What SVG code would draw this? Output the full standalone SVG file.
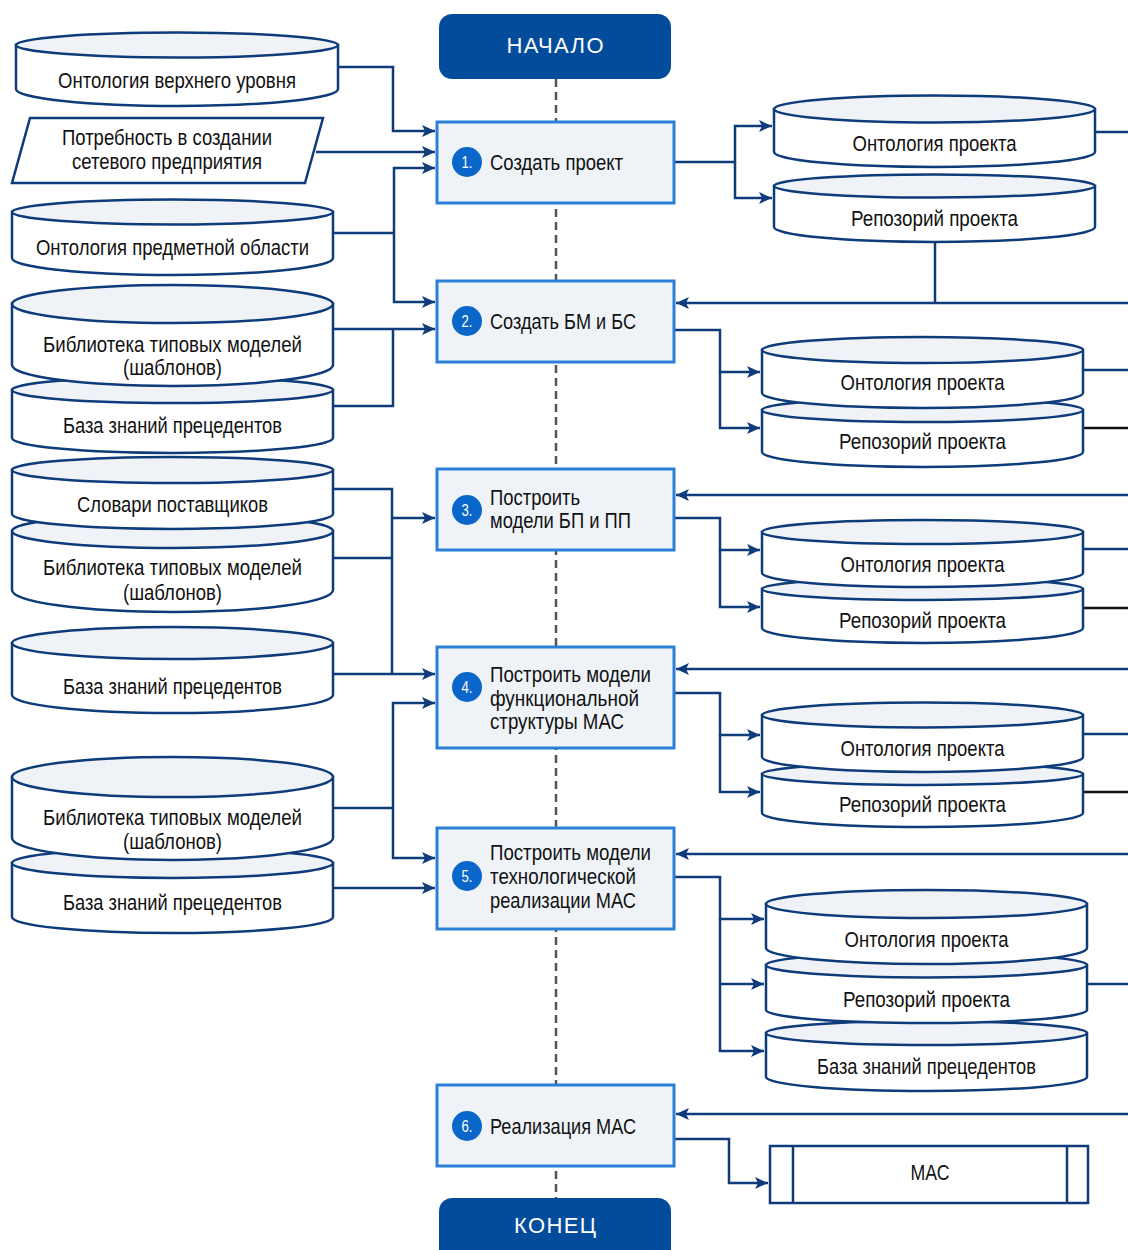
<svg xmlns="http://www.w3.org/2000/svg" width="1128" height="1250" viewBox="0 0 1128 1250">
<defs>
<marker id="ar" markerUnits="userSpaceOnUse" markerWidth="14" markerHeight="12" refX="13" refY="6" orient="auto">
<path d="M0,0 L13,6 L0,12 L3,6 Z" fill="#0E3B7A"/>
</marker>
<style>
.cb{fill:#fff;stroke:#0E3B7A;stroke-width:2.5}
.ct{fill:#EFF3F8;stroke:#0E3B7A;stroke-width:2.5}
.t{font-family:'Liberation Sans',Arial,sans-serif;font-size:22px;fill:#111;text-anchor:middle}
.tl{font-family:'Liberation Sans',Arial,sans-serif;font-size:22px;fill:#111}
.box{fill:#EFF3F8;stroke:#2A80D8;stroke-width:3}
.num{fill:#0A66C8}
.nt{font-family:'Liberation Sans',Arial,sans-serif;font-size:17px;fill:#fff;text-anchor:middle}
.term{fill:#034C9C}
.tt{font-family:'Liberation Sans',Arial,sans-serif;font-size:22px;fill:#fff;text-anchor:middle}
.ln{fill:none;stroke:#0E3B7A;stroke-width:2.5}
.lk{fill:none;stroke:#111;stroke-width:2.5}
.dash{fill:none;stroke:#555;stroke-width:2.5;stroke-dasharray:8 5}
</style>
</defs>

<path class="dash" d="M556,79 V1198"/>

<g id="start">
<rect class="term" x="439" y="14" width="232" height="65" rx="13"/>
<text class="tt" x="555" y="53" textLength="97" lengthAdjust="spacing">НАЧАЛО</text>
</g>
<g id="end">
<rect class="term" x="439" y="1198" width="232" height="70" rx="13"/>
<text class="tt" x="555" y="1233" textLength="82" lengthAdjust="spacing">КОНЕЦ</text>
</g>

<g id="connectors">
<path class="ln" d="M338,67 H393 V131 H435" marker-end="url(#ar)"/>
<path class="ln" d="M316,152 H435" marker-end="url(#ar)"/>
<path class="ln" d="M333,233 H394"/>
<path class="ln" d="M394,233 V168 H435" marker-end="url(#ar)"/>
<path class="ln" d="M394,233 V302 H435" marker-end="url(#ar)"/>
<path class="ln" d="M333,329 H435" marker-end="url(#ar)"/>
<path class="ln" d="M333,406 H393 V329"/>
<path class="ln" d="M333,489 H392 V674"/>
<path class="ln" d="M392,518 H435" marker-end="url(#ar)"/>
<path class="ln" d="M333,558 H392"/>
<path class="ln" d="M333,674 H435" marker-end="url(#ar)"/>
<path class="ln" d="M333,808 H393"/>
<path class="ln" d="M393,808 V703 H435" marker-end="url(#ar)"/>
<path class="ln" d="M393,808 V858 H435" marker-end="url(#ar)"/>
<path class="ln" d="M333,888 H435" marker-end="url(#ar)"/>

<path class="ln" d="M674,162 H735 V126 H772" marker-end="url(#ar)"/>
<path class="ln" d="M735,162 V198 H772" marker-end="url(#ar)"/>
<path class="ln" d="M1095,132 H1128"/>
<path class="ln" d="M935,242 V303"/>
<path class="ln" d="M1128,303 H676" marker-end="url(#ar)"/>
<path class="ln" d="M674,330 H720 V372 H760" marker-end="url(#ar)"/>
<path class="ln" d="M720,372 V428 H760" marker-end="url(#ar)"/>
<path class="ln" d="M1083,370 H1128"/>
<path class="lk" d="M1083,428 H1128"/>
<path class="ln" d="M1128,495 H676" marker-end="url(#ar)"/>
<path class="ln" d="M674,518 H720 V550 H760" marker-end="url(#ar)"/>
<path class="ln" d="M720,550 V607 H760" marker-end="url(#ar)"/>
<path class="ln" d="M1083,549 H1128"/>
<path class="lk" d="M1083,608 H1128"/>
<path class="ln" d="M1128,669 H676" marker-end="url(#ar)"/>
<path class="ln" d="M674,693 H720 V735 H760" marker-end="url(#ar)"/>
<path class="ln" d="M720,735 V792 H760" marker-end="url(#ar)"/>
<path class="ln" d="M1083,734 H1128"/>
<path class="lk" d="M1083,792 H1128"/>
<path class="ln" d="M1128,854 H676" marker-end="url(#ar)"/>
<path class="ln" d="M674,877 H720 V919 H764" marker-end="url(#ar)"/>
<path class="ln" d="M720,919 V1051 H764" marker-end="url(#ar)"/>
<path class="ln" d="M720,984 H764" marker-end="url(#ar)"/>
<path class="ln" d="M1087,984 H1128"/>
<path class="ln" d="M1128,1114 H676" marker-end="url(#ar)"/>
<path class="ln" d="M674,1139 H729 V1183 H768" marker-end="url(#ar)"/>
</g>

<!-- central steps -->
<g id="step1">
<rect class="box" x="437" y="122" width="237" height="81"/>
<circle class="num" cx="467" cy="162" r="15"/>
<text class="nt" x="467" y="168" textLength="11" lengthAdjust="spacingAndGlyphs">1.</text>
<text class="tl" x="490" y="170" textLength="133" lengthAdjust="spacingAndGlyphs">Создать проект</text>
</g>
<g id="step2">
<rect class="box" x="437" y="281" width="237" height="81"/>
<circle class="num" cx="467" cy="321" r="15"/>
<text class="nt" x="467" y="327" textLength="11" lengthAdjust="spacingAndGlyphs">2.</text>
<text class="tl" x="490" y="329" textLength="146" lengthAdjust="spacingAndGlyphs">Создать БМ и БС</text>
</g>
<g id="step3">
<rect class="box" x="437" y="469" width="237" height="81"/>
<circle class="num" cx="467" cy="510" r="15"/>
<text class="nt" x="467" y="516" textLength="11" lengthAdjust="spacingAndGlyphs">3.</text>
<text class="tl" x="490" y="505" textLength="90" lengthAdjust="spacingAndGlyphs">Построить</text>
<text class="tl" x="490" y="528" textLength="141" lengthAdjust="spacingAndGlyphs">модели БП и ПП</text>
</g>
<g id="step4">
<rect class="box" x="437" y="647" width="237" height="101"/>
<circle class="num" cx="467" cy="687" r="15"/>
<text class="nt" x="467" y="693" textLength="11" lengthAdjust="spacingAndGlyphs">4.</text>
<text class="tl" x="490" y="682" textLength="161" lengthAdjust="spacingAndGlyphs">Построить модели</text>
<text class="tl" x="490" y="706" textLength="149" lengthAdjust="spacingAndGlyphs">функциональной</text>
<text class="tl" x="490" y="729" textLength="134" lengthAdjust="spacingAndGlyphs">структуры МАС</text>
</g>
<g id="step5">
<rect class="box" x="437" y="828" width="237" height="101"/>
<circle class="num" cx="467" cy="876" r="15"/>
<text class="nt" x="467" y="882" textLength="11" lengthAdjust="spacingAndGlyphs">5.</text>
<text class="tl" x="490" y="860" textLength="161" lengthAdjust="spacingAndGlyphs">Построить модели</text>
<text class="tl" x="490" y="884" textLength="146" lengthAdjust="spacingAndGlyphs">технологической</text>
<text class="tl" x="490" y="908" textLength="146" lengthAdjust="spacingAndGlyphs">реализации МАС</text>
</g>
<g id="step6">
<rect class="box" x="437" y="1085" width="237" height="81"/>
<circle class="num" cx="467" cy="1126" r="15"/>
<text class="nt" x="467" y="1132" textLength="11" lengthAdjust="spacingAndGlyphs">6.</text>
<text class="tl" x="490" y="1134" textLength="146" lengthAdjust="spacingAndGlyphs">Реализация МАС</text>
</g>

<!-- left inputs -->
<g id="in-upper-ontology">
<path class="cb" d="M16,45 V89 A161,17 0 0 0 338,89 V45 Z"/>
<ellipse class="ct" cx="177" cy="45" rx="161" ry="12.5"/>
<text class="t" x="177" y="88" textLength="238" lengthAdjust="spacingAndGlyphs">Онтология верхнего уровня</text>
</g>
<g id="in-need">
<polygon points="30,118 323,118 305,183 12,183" fill="#fff" stroke="#0E3B7A" stroke-width="2.5"/>
<text class="t" x="167" y="145" textLength="210" lengthAdjust="spacingAndGlyphs">Потребность в создании</text>
<text class="t" x="167" y="169" textLength="190" lengthAdjust="spacingAndGlyphs">сетевого предприятия</text>
</g>
<g id="in-domain-ontology">
<path class="cb" d="M12,212 V258 A160.5,17 0 0 0 333,258 V212 Z"/>
<ellipse class="ct" cx="172.5" cy="212" rx="160.5" ry="12.5"/>
<text class="t" x="172.5" y="255" textLength="273" lengthAdjust="spacingAndGlyphs">Онтология предметной области</text>
</g>
<g id="in-cases-1">
<path class="cb" d="M12,390 V438 A160.5,15 0 0 0 333,438 V390 Z"/>
<ellipse class="ct" cx="172.5" cy="390" rx="160.5" ry="13"/>
<text class="t" x="172.5" y="433" textLength="219" lengthAdjust="spacingAndGlyphs">База знаний прецедентов</text>
</g>
<g id="in-library-1">
<path class="cb" d="M12,304 V365 A160.5,21 0 0 0 333,365 V304 Z"/>
<ellipse class="ct" cx="172.5" cy="304" rx="160.5" ry="19"/>
<text class="t" x="172.5" y="352" textLength="259" lengthAdjust="spacingAndGlyphs">Библиотека типовых моделей</text>
<text class="t" x="172.5" y="375" textLength="99" lengthAdjust="spacingAndGlyphs">(шаблонов)</text>
</g>
<g id="in-library-2">
<path class="cb" d="M12,531 V590 A160.5,22 0 0 0 333,590 V531 Z"/>
<ellipse class="ct" cx="172.5" cy="531" rx="160.5" ry="17"/>
<text class="t" x="172.5" y="575" textLength="259" lengthAdjust="spacingAndGlyphs">Библиотека типовых моделей</text>
<text class="t" x="172.5" y="600" textLength="99" lengthAdjust="spacingAndGlyphs">(шаблонов)</text>
</g>
<g id="in-vendors">
<path class="cb" d="M12,470 V514 A160.5,15 0 0 0 333,514 V470 Z"/>
<ellipse class="ct" cx="172.5" cy="470" rx="160.5" ry="13"/>
<text class="t" x="172.5" y="512" textLength="191" lengthAdjust="spacingAndGlyphs">Словари поставщиков</text>
</g>
<g id="in-cases-2">
<path class="cb" d="M12,643 V695 A160.5,18 0 0 0 333,695 V643 Z"/>
<ellipse class="ct" cx="172.5" cy="643" rx="160.5" ry="16"/>
<text class="t" x="172.5" y="694" textLength="219" lengthAdjust="spacingAndGlyphs">База знаний прецедентов</text>
</g>
<g id="in-cases-3">
<path class="cb" d="M12,863 V917 A160.5,16 0 0 0 333,917 V863 Z"/>
<ellipse class="ct" cx="172.5" cy="863" rx="160.5" ry="15"/>
<text class="t" x="172.5" y="910" textLength="219" lengthAdjust="spacingAndGlyphs">База знаний прецедентов</text>
</g>
<g id="in-library-3">
<path class="cb" d="M12,777 V838 A160.5,22 0 0 0 333,838 V777 Z"/>
<ellipse class="ct" cx="172.5" cy="777" rx="160.5" ry="20"/>
<text class="t" x="172.5" y="825" textLength="259" lengthAdjust="spacingAndGlyphs">Библиотека типовых моделей</text>
<text class="t" x="172.5" y="849" textLength="99" lengthAdjust="spacingAndGlyphs">(шаблонов)</text>
</g>

<!-- right outputs -->
<g id="out1-repo">
<path class="cb" d="M774,186 V227 A160.5,15 0 0 0 1095,227 V186 Z"/>
<ellipse class="ct" cx="934.5" cy="186" rx="160.5" ry="11.5"/>
<text class="t" x="934.5" y="226" textLength="167" lengthAdjust="spacingAndGlyphs">Репозорий проекта</text>
</g>
<g id="out1-onto">
<path class="cb" d="M774,109 V152 A160.5,15 0 0 0 1095,152 V109 Z"/>
<ellipse class="ct" cx="934.5" cy="109" rx="160.5" ry="13.5"/>
<text class="t" x="934.5" y="151" textLength="164" lengthAdjust="spacingAndGlyphs">Онтология проекта</text>
</g>
<g id="out2-repo">
<path class="cb" d="M762,410 V452 A160.5,15 0 0 0 1083,452 V410 Z"/>
<ellipse class="ct" cx="922.5" cy="410" rx="160.5" ry="12"/>
<text class="t" x="922.5" y="449" textLength="167" lengthAdjust="spacingAndGlyphs">Репозорий проекта</text>
</g>
<g id="out2-onto">
<path class="cb" d="M762,350 V393 A160.5,15 0 0 0 1083,393 V350 Z"/>
<ellipse class="ct" cx="922.5" cy="350" rx="160.5" ry="13"/>
<text class="t" x="922.5" y="390" textLength="164" lengthAdjust="spacingAndGlyphs">Онтология проекта</text>
</g>
<g id="out3-repo">
<path class="cb" d="M762,589 V628 A160.5,15 0 0 0 1083,628 V589 Z"/>
<ellipse class="ct" cx="922.5" cy="589" rx="160.5" ry="11"/>
<text class="t" x="922.5" y="628" textLength="167" lengthAdjust="spacingAndGlyphs">Репозорий проекта</text>
</g>
<g id="out3-onto">
<path class="cb" d="M762,532 V573 A160.5,14 0 0 0 1083,573 V532 Z"/>
<ellipse class="ct" cx="922.5" cy="532" rx="160.5" ry="12"/>
<text class="t" x="922.5" y="572" textLength="164" lengthAdjust="spacingAndGlyphs">Онтология проекта</text>
</g>
<g id="out4-repo">
<path class="cb" d="M762,774 V813 A160.5,14 0 0 0 1083,813 V774 Z"/>
<ellipse class="ct" cx="922.5" cy="774" rx="160.5" ry="11"/>
<text class="t" x="922.5" y="812" textLength="167" lengthAdjust="spacingAndGlyphs">Репозорий проекта</text>
</g>
<g id="out4-onto">
<path class="cb" d="M762,715 V757 A160.5,15 0 0 0 1083,757 V715 Z"/>
<ellipse class="ct" cx="922.5" cy="715" rx="160.5" ry="12.5"/>
<text class="t" x="922.5" y="756" textLength="164" lengthAdjust="spacingAndGlyphs">Онтология проекта</text>
</g>
<g id="out5-cases">
<path class="cb" d="M766,1033 V1077 A160.5,14 0 0 0 1087,1077 V1033 Z"/>
<ellipse class="ct" cx="926.5" cy="1033" rx="160.5" ry="12"/>
<text class="t" x="926.5" y="1074" textLength="219" lengthAdjust="spacingAndGlyphs">База знаний прецедентов</text>
</g>
<g id="out5-repo">
<path class="cb" d="M766,965 V1010 A160.5,13 0 0 0 1087,1010 V965 Z"/>
<ellipse class="ct" cx="926.5" cy="965" rx="160.5" ry="12.5"/>
<text class="t" x="926.5" y="1007" textLength="167" lengthAdjust="spacingAndGlyphs">Репозорий проекта</text>
</g>
<g id="out5-onto">
<path class="cb" d="M766,904 V948 A160.5,16 0 0 0 1087,948 V904 Z"/>
<ellipse class="ct" cx="926.5" cy="904" rx="160.5" ry="14"/>
<text class="t" x="926.5" y="947" textLength="164" lengthAdjust="spacingAndGlyphs">Онтология проекта</text>
</g>
<g id="out6-mas">
<rect x="770" y="1146" width="318" height="57" fill="#fff" stroke="#0E3B7A" stroke-width="2.5"/>
<path class="ln" d="M793,1146 V1203 M1067,1146 V1203"/>
<text class="t" x="930" y="1180" textLength="39" lengthAdjust="spacingAndGlyphs">МАС</text>
</g>
</svg>
